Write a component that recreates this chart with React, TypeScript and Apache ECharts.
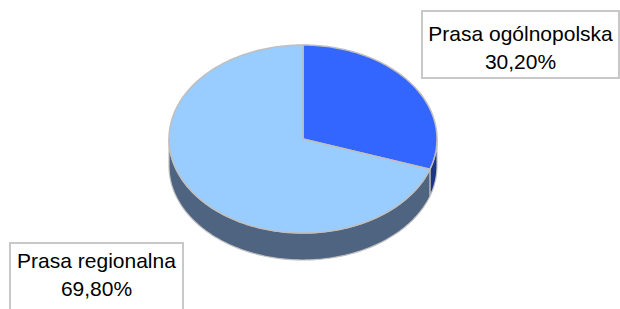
import React, { useEffect, useRef } from "react";
import * as echarts from "echarts";

const names: string[] = ["Prasa ogólnopolska", "Prasa regionalna"];
const values: number[] = [30.2, 69.8];
const topColors: string[] = ["#3366ff", "#99ccff"];
const sideColors: string[] = ["#1c3487", "#4e6480"];

const fmt = (v: number) => v.toFixed(2).replace(".", ",") + "%";

export default function App() {
  const ref = useRef<HTMLDivElement>(null);
  useEffect(() => {
    if (!ref.current) return;
    const chart = echarts.init(ref.current, null, { renderer: "svg" });
    const cx = 303, cy = 139, rx = 134, ry = 94, depth = 27;
    const total = values.reduce((a, b) => a + b, 0);
    const cum: number[] = [];
    let acc = 0;
    values.forEach((v) => { cum.push(acc); acc += v; });
    const pt = (t: number, dy = 0) => [cx + rx * Math.cos(t), cy + ry * Math.sin(t) + dy];
    const arcPts = (a: number, b: number, dy = 0) => {
      const n = Math.max(8, Math.ceil(Math.abs(b - a) / 0.02));
      const out: number[][] = [];
      for (let k = 0; k <= n; k++) out.push(pt(a + ((b - a) * k) / n, dy));
      return out;
    };
    const toPath = (ps: number[][]) =>
      ps.map((p, k) => (k === 0 ? "M" : "L") + p[0].toFixed(2) + " " + p[1].toFixed(2)).join(" ") + " Z";

    const renderItem = (params: any, api: any) => {
      const i = params.dataIndex;
      const v = api.value(0);
      const start = -Math.PI / 2 + (2 * Math.PI * cum[i]) / total;
      const end = start + (2 * Math.PI * v) / total;
      const children: any[] = [];
      const ranges = [[0, Math.PI], [2 * Math.PI, 3 * Math.PI], [-2 * Math.PI, -Math.PI]];
      ranges.forEach(([lo, hi]) => {
        const a = Math.max(start, lo), b = Math.min(end, hi);
        if (b > a) {
          const top = arcPts(a, b, 0);
          const bot = arcPts(b, a, depth);
          children.push({
            type: "path",
            z2: 1,
            shape: { pathData: toPath(top.concat(bot)) },
            style: { fill: sideColors[i], stroke: "#bfbfbf", lineWidth: 1.2 },
          });
        }
      });
      const sect = [[cx, cy]].concat(arcPts(start, end, 0));
      children.push({
        type: "path",
        z2: 10,
        shape: { pathData: toPath(sect) },
        style: { fill: topColors[i], stroke: "#bfbfbf", lineWidth: 1.5 },
      });
      return { type: "group", children };
    };

    const labelBoxes = [
      { x: 422, y: 11, w: 197, h: 67, tx: 520.5, ty: 47 },
      { x: 10, y: 243, w: 173, h: 70, tx: 96.5, ty: 274 },
    ];

    chart.setOption({
      animation: false,
      backgroundColor: "#ffffff",
      series: [
        {
          type: "custom",
          coordinateSystem: "none",
          silent: true,
          renderItem,
          data: values.map((v, i) => ({ value: [v], name: names[i] })),
        },
      ],
      graphic: labelBoxes.flatMap((b, i) => [
        {
          type: "rect",
          shape: { x: b.x, y: b.y, width: b.w, height: b.h },
          style: { fill: "#ffffff", stroke: "#c8c8c8", lineWidth: 2 },
          z: 10,
        },
        {
          type: "text",
          x: b.tx,
          y: b.ty,
          z: 11,
          style: {
            text: names[i] + "\n" + fmt(values[i]),
            fontFamily: "Liberation Sans, Arial, sans-serif",
            fontSize: 21,
            lineHeight: 28,
            fill: "#000000",
            align: "center",
            verticalAlign: "middle",
          },
        },
      ]),
    });
    return () => chart.dispose();
  }, []);
  return (
    <div
      ref={ref}
      style={{ position: "fixed", left: 0, top: 0, width: 620, height: 309 }}
    />
  );
}
